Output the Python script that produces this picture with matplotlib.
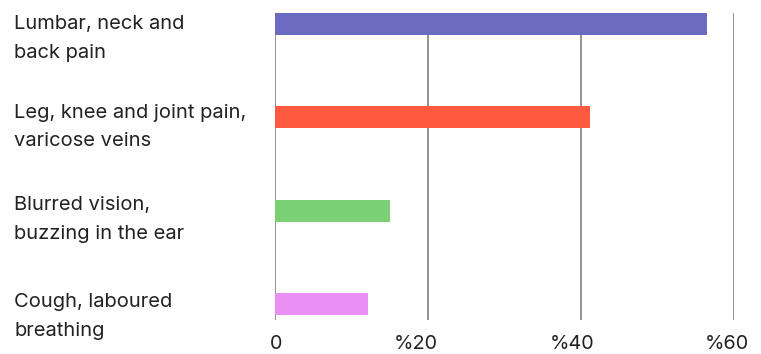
import matplotlib
matplotlib.use("Agg")
import matplotlib.pyplot as plt
import matplotlib.transforms as mtransforms

plt.rcParams['font.family'] = ['Inter', 'DejaVu Sans']

# data
categories = ["Lumbar, neck and\nback pain",
              "Leg, knee and joint pain,\nvaricose veins",
              "Blurred vision,\nbuzzing in the ear",
              "Cough, laboured\nbreathing"]
values = [56.5, 41.2, 15.1, 12.2]
colors = ["#6b6bc1", "#ff5a40", "#7bcf74", "#ea90f5"]
ticks = [0, 20, 40, 60]
tick_labels = ["0", "%20", "%40", "%60"]
# pixel nudges as seen in the original
tick_shift = [1.3, -12, -9, -6.5]
label_shift = [3.3, -1.8, -2.5, 1.0]

fig = plt.figure(figsize=(7.61, 3.54), dpi=100)
ax = fig.add_axes([274.7/761, 1-320/354, (733.7-274.7)/761, (320-13)/354])

ypos = list(range(len(categories)))
ax.barh(ypos, values, height=0.232, color=colors, zorder=3)

ax.set_xlim(0, 60)
ax.set_ylim(3.17, -0.116)
ax.set_xticks(ticks)
ax.set_xticklabels(tick_labels, fontsize=14.3, color="#222222")
ax.set_yticks([])
ax.tick_params(axis='x', length=0, pad=11)
for lbl, dx in zip(ax.get_xticklabels(), tick_shift):
    lbl.set_transform(lbl.get_transform() + mtransforms.ScaledTranslation(dx/100, 0, fig.dpi_scale_trans))
for s in ax.spines.values():
    s.set_visible(False)
for t in ticks:
    ax.axvline(t, color="#808080", lw=1.2, zorder=1)

trans = mtransforms.blended_transform_factory(fig.transFigure, ax.transData)
for y, lab, dy in zip(ypos, categories, label_shift):
    t = ax.text(14/761, y + 0.329, lab, transform=trans, ha='left', va='baseline',
                fontsize=14.5, color="#222222", linespacing=1.75)
    t.set_transform(trans + mtransforms.ScaledTranslation(0, -dy/100, fig.dpi_scale_trans))

fig.savefig("out.png", dpi=100)
